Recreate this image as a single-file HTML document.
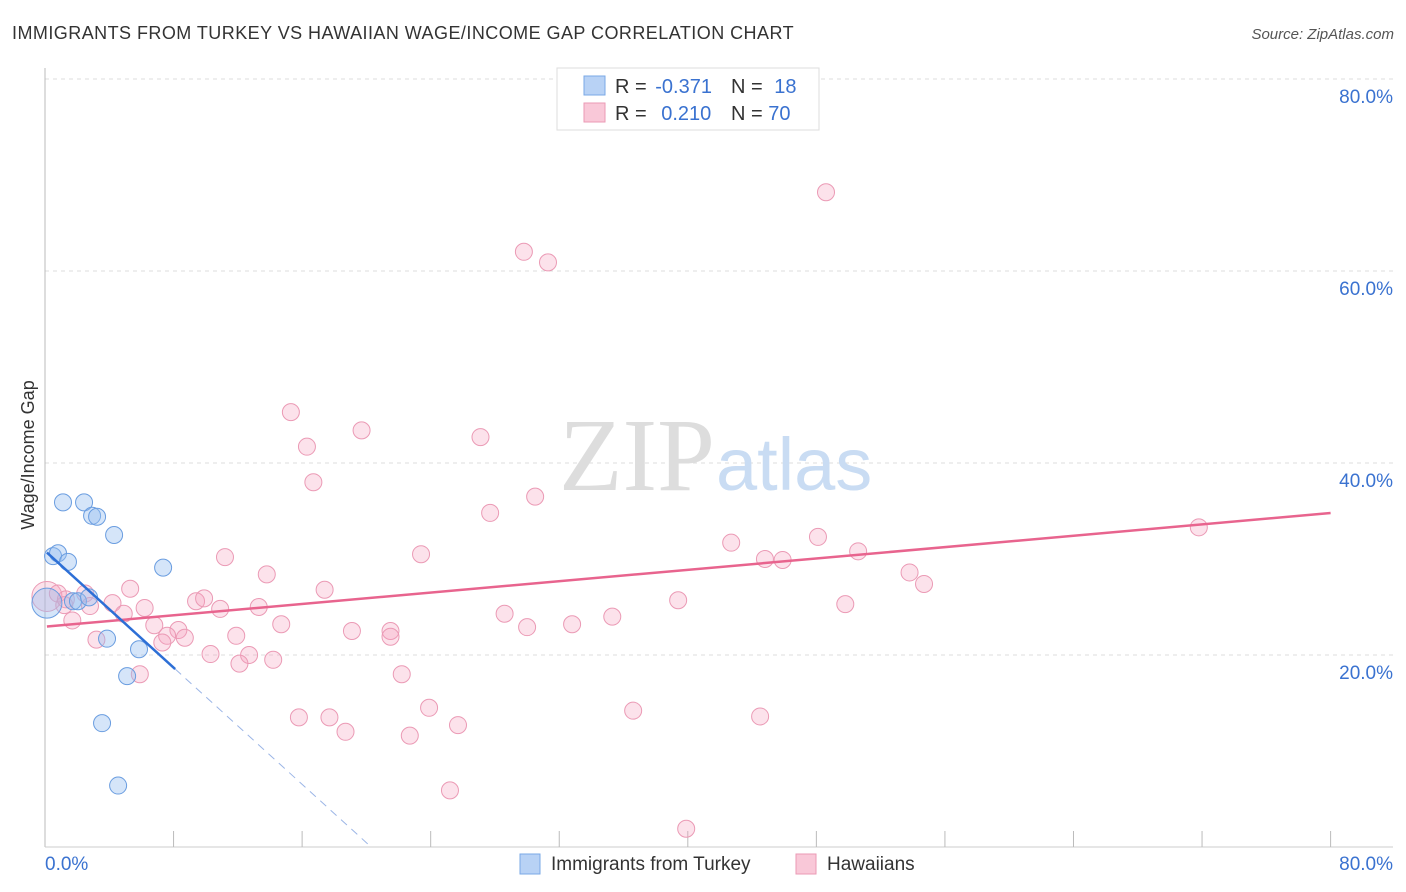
<!DOCTYPE html>
<html><head><meta charset="utf-8"><style>
body{margin:0;background:#fff;font-family:"Liberation Sans",sans-serif}
svg{display:block}
</style></head><body>
<svg width="1406" height="892" xmlns="http://www.w3.org/2000/svg">
<text x="12" y="39" font-size="18" fill="#333" letter-spacing="0.45">IMMIGRANTS FROM TURKEY VS HAWAIIAN WAGE/INCOME GAP CORRELATION CHART</text>
<text x="1394" y="39" font-size="15" fill="#555" font-style="italic" text-anchor="end">Source: ZipAtlas.com</text>
<g id="grid"></g>
<text x="715" y="490" font-family="Liberation Serif,serif" font-size="104" fill="#ddd" text-anchor="end">ZIP</text>
<text x="716" y="490" font-size="74" fill="#c9dcf3">atlas</text>
<text transform="translate(34,455) rotate(-90)" font-size="18" fill="#333" text-anchor="middle">Wage/Income Gap</text>
<g id="pts"></g>
<g id="lines"></g>
<g>
<rect x="557" y="68" width="262" height="62" fill="#fff" stroke="#ddd"/>
<rect x="584" y="76" width="21" height="19" fill="#b8d2f5" stroke="#7aa8e6"/>
<rect x="584" y="103" width="21" height="19" fill="#f9c8d8" stroke="#eb9ab5"/>
<text x="615" y="93" font-size="20" fill="#333">R = <tspan fill="#3a72d0" dx="3">-0.371</tspan></text>
<text x="731" y="93" font-size="20" fill="#333">N = <tspan fill="#3a72d0" dx="6">18</tspan></text>
<text x="615" y="120" font-size="20" fill="#333">R = <tspan fill="#3a72d0" dx="9">0.210</tspan></text>
<text x="731" y="120" font-size="20" fill="#333">N = <tspan fill="#3a72d0">70</tspan></text>
</g>
<g>
<rect x="520" y="854" width="20" height="20" fill="#b8d2f5" stroke="#7aa8e6"/>
<text x="551" y="870" font-size="19" fill="#333">Immigrants from Turkey</text>
<rect x="796" y="854" width="20" height="20" fill="#f9c8d8" stroke="#eb9ab5"/>
<text x="827" y="870" font-size="19" fill="#333">Hawaiians</text>
</g>
</svg>
<script>
const yTicks=[20,40,60,80];
const xTickCount=10;
const turkeyX=[1.12,2.43,2.93,3.24,4.30,0.50,0.81,1.43,7.35,0.12,1.74,2.05,2.74,3.86,5.85,5.11,3.55,4.55];
const turkeyY=[35.9,35.9,34.5,34.4,32.5,30.3,30.6,29.7,29.1,25.4,25.6,25.6,26.0,21.7,20.6,17.8,12.9,6.4];
const hawX=[48.6,29.8,31.3,15.3,16.3,19.7,27.1,16.7,30.5,27.7,71.8,42.7,48.1,50.6,23.4,11.2,44.8,45.9,53.8,54.7,13.8,17.4,5.3,0.12,0.8,2.5,9.4,9.9,39.4,49.8,4.2,6.2,2.8,10.9,13.3,1.2,4.9,28.6,35.3,1.7,14.7,6.8,32.8,30.0,8.3,19.1,21.5,7.6,8.7,11.9,21.5,3.2,7.3,10.3,12.7,14.2,12.1,5.9,22.2,23.9,36.6,15.8,17.7,44.5,25.7,18.7,22.7,25.2,39.9,1.3];
const hawY=[68.2,62.0,60.9,45.3,41.7,43.4,42.7,38.0,36.5,34.8,33.3,31.7,32.3,30.8,30.5,30.2,30.0,29.9,28.6,27.4,28.4,26.8,26.9,26.1,26.4,26.4,25.6,25.9,25.7,25.3,25.4,24.9,25.1,24.8,25.0,25.2,24.3,24.3,24.0,23.6,23.2,23.1,23.2,22.9,22.6,22.5,22.5,22.0,21.8,22.0,21.9,21.6,21.3,20.1,20.0,19.5,19.1,18.0,18.0,14.5,14.2,13.5,13.5,13.6,12.7,12.0,11.6,5.9,1.9,25.8];
const turkeyBig=[9];
const hawBig=[23];
const turkeyFit=[30.85,-1.52];
const hawFit=[22.95,0.148];
const turkeySolidEnd=8.1;
const NS="http://www.w3.org/2000/svg";
const X=v=>45+v*16.07, Y=v=>847-v*9.6;
function mk(t,a,p){const e=document.createElementNS(NS,t);for(const k in a)e.setAttribute(k,a[k]);p.appendChild(e);return e;}
const grid=document.getElementById('grid');
yTicks.forEach(t=>{
 const l=mk('line',{x1:45,x2:1393,y1:Y(t),y2:Y(t),stroke:'#ddd','stroke-dasharray':'4,4'},grid);
 
 
 const tx=mk('text',{x:1393,y:Y(t)+24,'font-size':19,fill:'#3a72d0','text-anchor':'end'},grid);
 tx.textContent=t.toFixed(1)+'%';
 
 
});
const ax=mk('line',{x1:45,x2:45,y1:68,y2:847,stroke:'#bbb'},grid);


const bx=mk('line',{x1:45,x2:1393,y1:847,y2:847,stroke:'#ccc'},grid);


for(let i=1;i<=xTickCount;i++){
 const tk=mk('line',{x1:X(i*8),x2:X(i*8),y1:831,y2:847,stroke:'#bbb'},grid);
 
 
}
const x0=mk('text',{x:45,y:870,'font-size':19,fill:'#3a72d0'},grid);x0.textContent='0.0%';


const x1=mk('text',{x:1393,y:870,'font-size':19,fill:'#3a72d0','text-anchor':'end'},grid);x1.textContent='80.0%';


const pts=document.getElementById('pts');
hawX.forEach((v,i)=>{
 const c=mk('circle',{cx:X(v),cy:Y(hawY[i]),r:hawBig.includes(i)?15:8.5,fill:'rgba(244,160,188,0.3)',stroke:'#eb9ab5','stroke-width':1},pts);
 
 
});
turkeyX.forEach((v,i)=>{
 const c=mk('circle',{cx:X(v),cy:Y(turkeyY[i]),r:turkeyBig.includes(i)?15:8.5,fill:'rgba(150,190,240,0.4)',stroke:'#6a9de0','stroke-width':1},pts);
 
 
});
const lines=document.getElementById('lines');
const hl=mk('line',{x1:X(0.12),y1:Y(hawFit[0]+hawFit[1]*0.12),x2:X(80),y2:Y(hawFit[0]+hawFit[1]*80),stroke:'#e8648e','stroke-width':2.5},lines);


const tl=mk('line',{x1:X(0.12),y1:Y(turkeyFit[0]+turkeyFit[1]*0.12),x2:X(turkeySolidEnd),y2:Y(turkeyFit[0]+turkeyFit[1]*turkeySolidEnd),stroke:'#2d6fd6','stroke-width':2.5},lines);


const xz=-turkeyFit[0]/turkeyFit[1];
const td=mk('line',{x1:X(turkeySolidEnd),y1:Y(turkeyFit[0]+turkeyFit[1]*turkeySolidEnd),x2:X(xz),y2:Y(0),stroke:'#9bb5e6','stroke-width':1,'stroke-dasharray':'8,6'},lines);


</script>
</body></html>
